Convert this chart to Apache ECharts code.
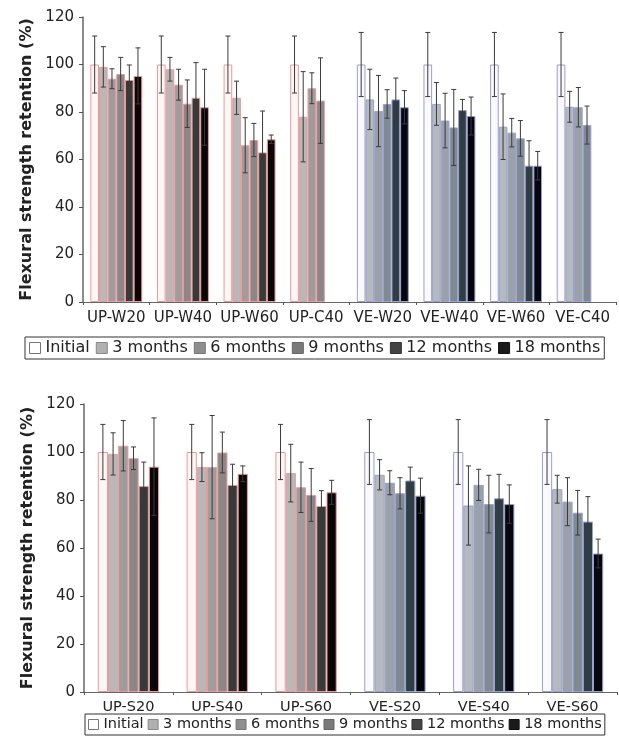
<!DOCTYPE html>
<html><head><meta charset="utf-8">
<script src="https://cdn.jsdelivr.net/npm/echarts@6/dist/echarts.min.js"></script>
<style>html,body{margin:0;padding:0;background:#fff}#c{width:619px;height:746px}</style>
</head><body><div id="c"></div>
<script>
// ---------- DATA ----------
const timeNames = ['Initial', '3 months', '6 months', '9 months', '12 months', '18 months'];
const yTicks = [0, 20, 40, 60, 80, 100, 120];

const topCategories = ['UP-W20', 'UP-W40', 'UP-W60', 'UP-C40', 'VE-W20', 'VE-W40', 'VE-W60', 'VE-C40'];
const topInitial = [100, 100, 100, 100, 100, 100, 100, 100];
const top3m  = [99, 98, 86, 78, 85.3, 83.4, 73.8, 82.2];
const top6m  = [94, 91.5, 66, 90, 80.4, 76.4, 71.3, 82];
const top9m  = [96, 83.5, 68.2, 84.8, 83.4, 73.5, 68.9, 74.5];
const top12m = [93.5, 86, 63, null, 85.3, 80.8, 57.4, null];
const top18m = [95.2, 82, 68.5, null, 82, 78.3, 57.4, null];
const topInitialErr = [12, 12, 12, 12, 13.5, 13.5, 13.5, 13.5];
const top3mErr  = [8.5, 5, 7, 19, 12.7, 9, 13.8, 6.5];
const top6mErr  = [4.2, 6.5, 11.6, 6.5, 15, 11.5, 6, 8.3];
const top9mErr  = [7, 10, 7, 18, 6, 16, 7.5, 8];
const top12mErr = [6.3, 14.8, 17.4, null, 9, 4.5, 10.5, null];
const top18mErr = [11.8, 16, 1.8, null, 7, 8, 6, null];

const botCategories = ['UP-S20', 'UP-S40', 'UP-S60', 'VE-S20', 'VE-S40', 'VE-S60'];
const botInitial = [100, 100, 100, 100, 100, 100];
const bot3m  = [99.2, 93.7, 91.2, 90.5, 77.7, 84.5];
const bot6m  = [102.6, 93.7, 85.3, 87.2, 86.3, 79.3];
const bot9m  = [97.4, 99.8, 82.1, 82.8, 78.3, 74.7];
const bot12m = [85.8, 86.3, 77.5, 88.1, 80.7, 71];
const bot18m = [93.9, 90.9, 83.2, 81.8, 78.3, 57.7];
const botInitialErr = [11.5, 11.5, 11.5, 13.5, 13.5, 13.5];
const bot3mErr  = [8.8, 6, 12, 6.3, 16.5, 5.8];
const bot6mErr  = [10.5, 21.5, 10.5, 5, 6.5, 10];
const bot9mErr  = [4.7, 8.5, 11, 6.5, 12, 9.3];
const bot12mErr = [10, 8.6, 6.4, 5.6, 10, 10.4];
const bot18mErr = [20.3, 3.3, 5, 7.3, 8, 6];

// ---------- STYLE ----------
const FONT = 'DejaVu Sans';
const upFill = ['#fff7f5', '#bab7b8', '#a09c9d', '#8b8789', '#343b3a', '#0a0607'];
const veFill = ['#f9f9ff', '#b5babf', '#9aa1a8', '#808a93', '#2f3d44', '#05060e'];
const upBorder = '#e89a9a';
const veBorder = '#9aa0cc';
const legendIcons = [
  {color: '#ffffff', borderColor: '#777'},
  {color: '#b0b0b0', borderColor: '#888'},
  {color: '#8e8e8e', borderColor: '#777'},
  {color: '#7a7a7a', borderColor: '#666'},
  {color: '#444444', borderColor: '#333'},
  {color: '#1a1a1a', borderColor: '#111'}
];
const gaps = [0.22, 0.31];

const topVals = [topInitial, top3m, top6m, top9m, top12m, top18m];
const topErrs = [topInitialErr, top3mErr, top6mErr, top9mErr, top12mErr, top18mErr];
const botVals = [botInitial, bot3m, bot6m, bot9m, bot12m, bot18m];
const botErrs = [botInitialErr, bot3mErr, bot6mErr, bot9mErr, bot12mErr, bot18mErr];

function barSeries(g, k, cats, vals) {
  return {
    type: 'bar', name: timeNames[k], xAxisIndex: g, yAxisIndex: g,
    barGap: '0%', barCategoryGap: (gaps[g] * 100) + '%',
    itemStyle: {color: legendIcons[k].color},
    data: vals.map((v, i) => {
      const up = cats[i].startsWith('UP');
      return {value: v, itemStyle: {color: (up ? upFill : veFill)[k], borderColor: up ? upBorder : veBorder, borderWidth: 1}};
    }),
    silent: true, z: 2
  };
}
function errSeries(g, k, vals, errs) {
  return {
    type: 'custom', name: 'err' + g + '_' + k, xAxisIndex: g, yAxisIndex: g, z: 5, silent: true,
    data: vals.map((v, i) => [i, v, errs[i]]),
    renderItem: function (params, api) {
      const v = api.value(1), e = api.value(2);
      if (v == null || isNaN(v) || e == null || isNaN(e)) return;
      const ci = api.value(0);
      const band = api.size([1, 0])[0];
      const bw = band * (1 - gaps[g]) / 6;
      const c = api.coord([ci, v]);
      const x = c[0] + (k - 2.5) * bw;
      const hi = api.coord([ci, v + e])[1];
      const lo = api.coord([ci, v - e])[1];
      const cw = 2.5;
      const st = {stroke: '#3a3a3a', lineWidth: 1};
      return {type: 'group', children: [
        {type: 'line', shape: {x1: x, y1: hi, x2: x, y2: lo}, style: st},
        {type: 'line', shape: {x1: x - cw, y1: hi, x2: x + cw, y2: hi}, style: st},
        {type: 'line', shape: {x1: x - cw, y1: lo, x2: x + cw, y2: lo}, style: st}
      ]};
    }
  };
}

const series = [];
for (let k = 0; k < 6; k++) series.push(barSeries(0, k, topCategories, topVals[k]));
for (let k = 0; k < 6; k++) series.push(barSeries(1, k, botCategories, botVals[k]));
for (let k = 0; k < 6; k++) series.push(errSeries(0, k, topVals[k], topErrs[k]));
for (let k = 0; k < 6; k++) series.push(errSeries(1, k, botVals[k], botErrs[k]));

function xAxis(g, cats, fs, margin) {
  return {
    type: 'category', gridIndex: g, data: cats,
    axisLine: {lineStyle: {color: '#666', width: 1}},
    axisTick: {show: true, length: 3, lineStyle: {color: '#555'}},
    axisLabel: {fontFamily: FONT, fontSize: fs, color: '#222', margin: margin, interval: 0}
  };
}
function yAxis(g) {
  return {
    type: 'value', gridIndex: g, min: yTicks[0], max: yTicks[yTicks.length - 1], interval: yTicks[1] - yTicks[0],
    name: 'Flexural strength retention (%)', nameLocation: 'middle', nameGap: 47, nameRotate: 90,
    nameTextStyle: {fontFamily: FONT, fontSize: 16, fontWeight: 'bold', color: '#222'},
    axisLine: {show: true, lineStyle: {color: '#666', width: 1.5}},
    axisTick: {show: true, length: 4, lineStyle: {color: '#555'}},
    splitLine: {show: false},
    axisLabel: {fontFamily: FONT, fontSize: 15, color: '#222', margin: 9}
  };
}
function legend(left, top, fs, iw, gap, pad) {
  return {
    left: left, top: top, orient: 'horizontal', icon: 'rect',
    itemWidth: iw, itemHeight: iw, itemGap: gap, padding: pad,
    borderColor: '#333', borderWidth: 1, selectedMode: false,
    textStyle: {fontFamily: FONT, fontSize: fs, color: '#222'},
    data: timeNames.map((n, k) => ({name: n, itemStyle: {color: legendIcons[k].color, borderColor: legendIcons[k].borderColor, borderWidth: 1}}))
  };
}

const chart = echarts.init(document.getElementById('c'), null, {renderer: 'canvas'});
chart.setOption({
  animation: false,
  backgroundColor: '#fff',
  grid: [
    {left: 83, right: 3, top: 17, bottom: 444},
    {left: 84, right: 2, top: 404, bottom: 54}
  ],
  xAxis: [xAxis(0, topCategories, 15, 9), xAxis(1, botCategories, 14.5, 8)],
  yAxis: [yAxis(0), yAxis(1)],
  legend: [legend(25, 337, 16, 11, 6, [3, 4, 3, 4]), legend(85, 714, 14.5, 10, 4, [3, 3, 3, 3])],
  series: series
});
</script>
</body></html>
